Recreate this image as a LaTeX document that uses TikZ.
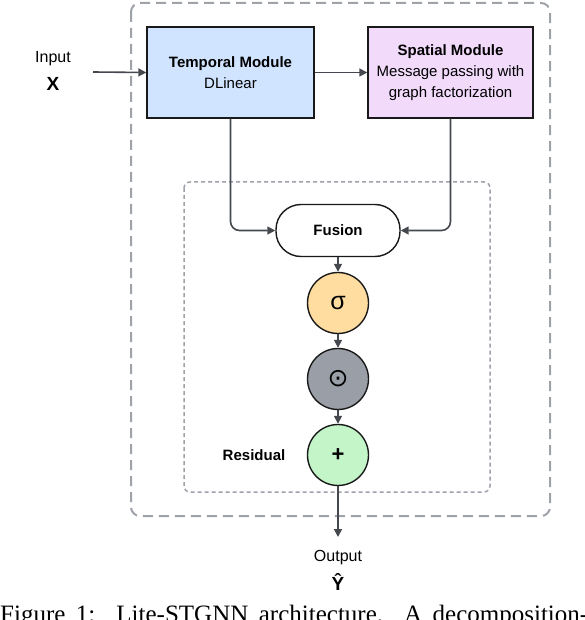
\documentclass[tikz,border=0pt]{standalone}
\usepackage{fontspec}
\setmainfont{Liberation Sans}
\newfontfamily\dejavu{DejaVu Sans}
\newfontfamily\capfont{Liberation Serif}
\usetikzlibrary{arrows.meta,positioning}
\definecolor{tempblue}{HTML}{D0E4FF}
\definecolor{spatpurple}{HTML}{F2DAFB}
\definecolor{sigorange}{HTML}{FFDDA0}
\definecolor{prodgray}{HTML}{9A9FA7}
\definecolor{resgreen}{HTML}{C4F5C8}
\definecolor{dashgray}{HTML}{9EA2A9}
\definecolor{arrowgray}{HTML}{45484F}
\tikzset{
  modbox/.style={draw=black!90, line width=1.4pt, minimum width=167pt, minimum height=91pt, align=center, inner sep=2pt, font=\fontsize{15}{21}\selectfont},
  opcirc/.style={circle, draw=black!90, line width=1.4pt, minimum size=61pt, inner sep=0pt},
  conn/.style={draw=arrowgray, line width=1.6pt, -{Triangle[length=8pt,width=8pt]}},
  lbl/.style={font=\fontsize{16}{18}\selectfont, align=center},
  outerdash/.style={draw=dashgray, line width=2pt, dash pattern=on 10pt off 6pt, rounded corners=9pt},
  innerdash/.style={draw=dashgray, line width=1.5pt, dash pattern=on 4pt off 3pt, rounded corners=6pt}
}
\begin{document}
\begin{tikzpicture}[x=1pt,y=-1pt]
\useasboundingbox (0,0) rectangle (584,620);
\clip (0,0) rectangle (584,620);
% frames
\draw[outerdash] (131,3) rectangle (550,516);
\draw[innerdash] (184,182) rectangle (490,492);
% modules
\node[modbox, fill=tempblue] (temp) at (230.5,72.5) {\textbf{Temporal Module}\\DLinear};
\node[modbox, fill=spatpurple, minimum width=165pt] (spat) at (450.5,72.5) {\textbf{Spatial Module}\\Message passing with\\graph factorization};
% input
\node[lbl] (inlbl) at (53,59) {Input};
\node[font=\fontsize{19}{22}\selectfont\bfseries] (inx) at (53,84) {X};
\coordinate (instart) at (93,72);
\draw[conn] (instart) -- (temp.west);
\draw[conn] (temp.east) -- (spat.west);
% fusion
\node[draw=black!90, line width=1.4pt, fill=white, rounded corners=25pt, minimum width=124pt, minimum height=52pt, font=\fontsize{15}{17}\selectfont\bfseries] (fus) at (338,230.5) {Fusion};
\draw[conn, rounded corners=9pt] (temp.south) |- (fus.west);
\draw[conn, rounded corners=9pt] (spat.south) |- (fus.east);
% ops
\node[opcirc, fill=sigorange, font=\fontsize{25}{28}\selectfont] (sig) at (338,303) {σ};
\node[opcirc, fill=prodgray, font=\dejavu\fontsize{25}{28}\selectfont] (prod) at (338,379) {⊙};
\node[opcirc, fill=resgreen, font=\fontsize{22}{24}\selectfont\bfseries] (res) at (338,455) {+};
\node[font=\fontsize{15}{17}\selectfont\bfseries] (reslbl) at (254,455) {Residual};
\draw[conn] (fus) -- (sig);
\draw[conn] (sig) -- (prod);
\draw[conn] (prod) -- (res);
% output
\coordinate (outend) at (338,537);
\draw[conn] (res) -- (outend);
\node[lbl] (outlbl) at (338,558) {Output};
\node[font=\fontsize{19}{22}\selectfont\bfseries] (outy) at (338,582) {Ŷ};
% caption (cut)
\node[anchor=base west, inner sep=0pt, font=\capfont\fontsize{25}{30}\selectfont] (cap) at (0,622) {\makebox[588pt][s]{Figure 1:\ \ Lite-STGNN architecture.\ \ A decomposition-}};
\end{tikzpicture}
\end{document}
